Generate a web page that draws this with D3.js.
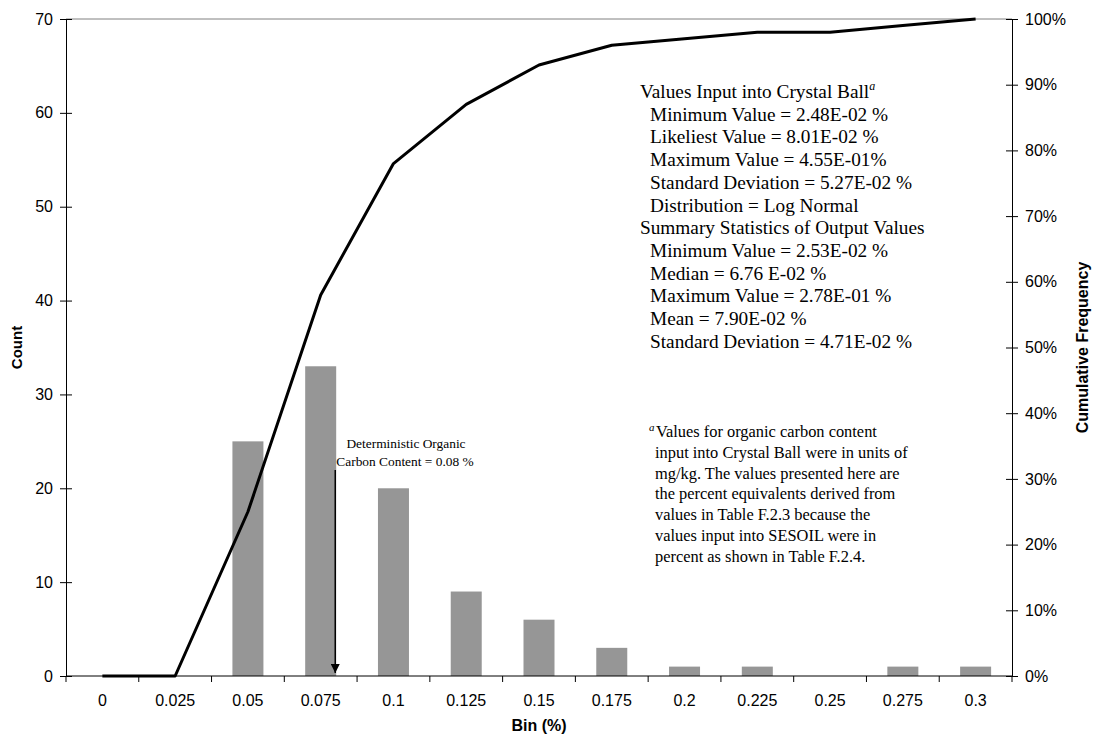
<!DOCTYPE html>
<html>
<head>
<meta charset="utf-8">
<script src="https://cdn.jsdelivr.net/npm/d3@7"></script>
<style>
  body { margin: 0; background: #fff; }
  svg text { font-family: "Liberation Sans", Arial, sans-serif; }
  .serif { font-family: "Liberation Serif", "Times New Roman", serif; }
</style>
</head>
<body>
<svg id="chart" width="1094" height="739"></svg>
<script>
// Data
const bins = [0, 0.025, 0.05, 0.075, 0.1, 0.125, 0.15, 0.175, 0.2, 0.225, 0.25, 0.275, 0.3];
const counts = [0, 0, 25, 33, 20, 9, 6, 3, 1, 1, 0, 1, 1];
const cumulative = [0, 0, 0.25, 0.58, 0.78, 0.87, 0.93, 0.96, 0.97, 0.98, 0.98, 0.99, 1.0];
const countTicks = [0, 10, 20, 30, 40, 50, 60, 70];
const pctTicks = [0, 0.1, 0.2, 0.3, 0.4, 0.5, 0.6, 0.7, 0.8, 0.9, 1.0];
const deterministic = 0.08;

const statsLines = [
	{ text: "Values Input into Crystal Ball", indent: false, sup: "a" },
	{ text: "Minimum Value = 2.48E-02 %", indent: true },
	{ text: "Likeliest Value = 8.01E-02 %", indent: true },
	{ text: "Maximum Value = 4.55E-01%", indent: true },
	{ text: "Standard Deviation = 5.27E-02 %", indent: true },
	{ text: "Distribution = Log Normal", indent: true },
	{ text: "Summary Statistics of Output Values", indent: false },
	{ text: "Minimum Value = 2.53E-02 %", indent: true },
	{ text: "Median = 6.76 E-02 %", indent: true },
	{ text: "Maximum Value = 2.78E-01 %", indent: true },
	{ text: "Mean = 7.90E-02 %", indent: true },
	{ text: "Standard Deviation = 4.71E-02 %", indent: true }
];
const footnote = [
	"Values for organic carbon content",
	"input into Crystal Ball were in units of",
	"mg/kg. The values presented here are",
	"the percent equivalents derived from",
	"values in Table F.2.3 because the",
	"values input into SESOIL were in",
	"percent as shown in Table F.2.4."
];

const plotL = 66, plotR = 1012, plotT = 19, plotB = 676;
const svg = d3.select("#chart");

const x = d3.scaleBand().domain(bins).range([plotL, plotR]).padding(0);
const step = x.step();
const xLin = d3.scaleLinear()
	.domain([bins[0] - 0.0125, bins[bins.length - 1] + 0.0125])
	.range([plotL, plotR]);
const y = d3.scaleLinear().domain([0, 70]).range([plotB, plotT]);
const y2 = d3.scaleLinear().domain([0, 1]).range([plotB, plotT]);

// top border line
svg.append("line")
	.attr("x1", plotL).attr("x2", plotR)
	.attr("y1", plotT).attr("y2", plotT)
	.attr("stroke", "#808080").attr("stroke-width", 1);

// bars
const barW = 31;
svg.selectAll(".bar")
	.data(bins.map((b, i) => ({ bin: b, count: counts[i] })))
	.enter()
	.append("rect")
	.attr("class", "bar")
	.attr("x", d => x(d.bin) + step / 2 - barW / 2)
	.attr("width", barW)
	.attr("y", d => y(d.count))
	.attr("height", d => plotB - y(d.count))
	.attr("fill", "#969696");

// cumulative line
const line = d3.line()
	.x((d, i) => x(bins[i]) + step / 2)
	.y(d => y2(d));
svg.append("path")
	.datum(cumulative)
	.attr("d", line)
	.attr("fill", "none")
	.attr("stroke", "#000")
	.attr("stroke-width", 3)
	.attr("stroke-linejoin", "round");

// left axis
const yAxis = svg.append("g")
	.attr("transform", `translate(${plotL},0)`)
	.call(d3.axisLeft(y).tickValues(countTicks).tickSize(6).tickPadding(7));
yAxis.selectAll(".tick line").attr("x1", 6);
// right axis
const y2Axis = svg.append("g")
	.attr("transform", `translate(${plotR},0)`)
	.call(d3.axisRight(y2).tickValues(pctTicks).tickSize(6).tickPadding(7).tickFormat(d3.format(".0%")));
y2Axis.selectAll(".tick line").attr("x1", -6);
// bottom axis: labels at centres
const xAxis = svg.append("g")
	.attr("transform", `translate(0,${plotB})`)
	.call(d3.axisBottom(x).tickSize(0).tickPadding(19).tickFormat(d => String(d)));
xAxis.select(".domain").remove();
svg.append("line")
	.attr("x1", plotL).attr("x2", plotR)
	.attr("y1", plotB).attr("y2", plotB)
	.attr("stroke", "#000");
// ticks at the band edges
svg.selectAll(".xedge")
	.data(d3.range(bins.length + 1))
	.enter()
	.append("line")
	.attr("x1", i => plotL + i * step).attr("x2", i => plotL + i * step)
	.attr("y1", plotB).attr("y2", plotB + 6)
	.attr("stroke", "#000");

[yAxis, y2Axis, xAxis].forEach(g => {
	g.selectAll(".domain").attr("stroke", "#000");
	g.selectAll("text").attr("font-size", 16).attr("fill", "#000")
		.attr("font-family", "Liberation Sans, Arial, sans-serif");
});

// axis titles
svg.append("text")
	.attr("transform", `translate(22,${(plotT + plotB) / 2}) rotate(-90)`)
	.attr("text-anchor", "middle")
	.attr("font-size", 15).attr("font-weight", "bold")
	.text("Count");
svg.append("text")
	.attr("transform", `translate(1088,${(plotT + plotB) / 2}) rotate(-90)`)
	.attr("text-anchor", "middle")
	.attr("font-size", 16).attr("font-weight", "bold")
	.text("Cumulative Frequency");
svg.append("text")
	.attr("x", (plotL + plotR) / 2).attr("y", 731)
	.attr("text-anchor", "middle")
	.attr("font-size", 16).attr("font-weight", "bold")
	.text("Bin (%)");

// deterministic arrow
svg.append("defs").append("marker")
	.attr("id", "arrow")
	.attr("viewBox", "0 0 10 10")
	.attr("refX", 10).attr("refY", 5)
	.attr("markerWidth", 10).attr("markerHeight", 9)
	.attr("markerUnits", "userSpaceOnUse")
	.attr("orient", "auto")
	.append("path")
	.attr("d", "M0,0 L10,5 L0,10 z")
	.attr("fill", "#000");
const ax = xLin(deterministic);
svg.append("line")
	.attr("x1", ax).attr("x2", ax)
	.attr("y1", 470).attr("y2", plotB - 3)
	.attr("stroke", "#000").attr("stroke-width", 1.5)
	.attr("marker-end", "url(#arrow)");
const note = svg.append("text")
	.attr("class", "serif")
	.attr("text-anchor", "middle")
	.attr("font-size", 13.4);
note.append("tspan").attr("x", 406).attr("y", 448).text("Deterministic Organic");
note.append("tspan").attr("x", 405).attr("y", 466).text("Carbon Content = 0.08 %");

// statistics block
const stats = svg.append("text")
	.attr("class", "serif")
	.attr("font-size", 19.3)
	.attr("fill", "#000");
statsLines.forEach((d, i) => {
	stats.append("tspan")
		.attr("x", d.indent ? 650 : 640)
		.attr("y", 98 + i * 22.7)
		.text(d.text);
	if (d.sup) {
		stats.append("tspan")
			.attr("font-size", 12).attr("font-style", "italic")
			.attr("dy", -8)
			.text(d.sup);
	}
});

// footnote
const fn = svg.append("text")
	.attr("class", "serif")
	.attr("font-size", 16.4)
	.attr("fill", "#000");
fn.append("tspan").attr("x", 649).attr("y", 431)
	.attr("font-size", 11).attr("font-style", "italic").text("a");
fn.append("tspan").attr("x", 656).attr("y", 437).text(footnote[0]);
footnote.slice(1).forEach((t, i) => {
	fn.append("tspan").attr("x", 655).attr("y", 437 + (i + 1) * 20.8).text(t);
});
</script>
</body>
</html>
